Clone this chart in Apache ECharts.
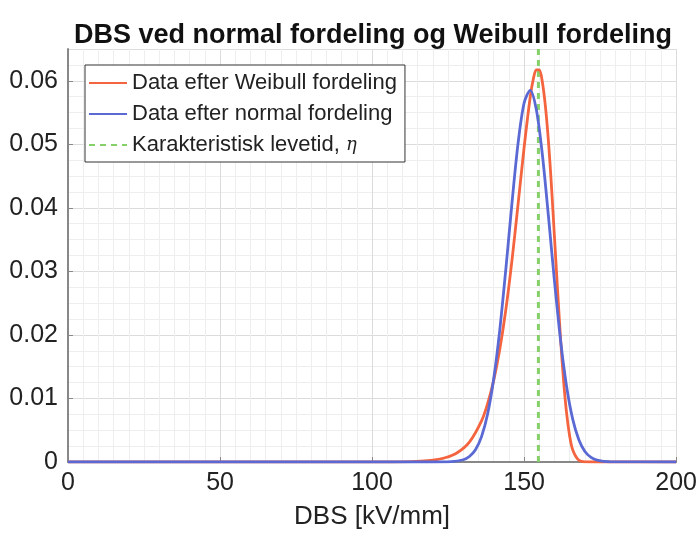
<!DOCTYPE html>
<html>
<head>
<meta charset="utf-8">
<script src="https://cdn.jsdelivr.net/npm/echarts@6/dist/echarts.min.js"></script>
<style>html,body{margin:0;padding:0;background:#fff}#c{width:700px;height:535px}</style>
</head>
<body>
<div id="c"></div>
<script>
const titleText = 'DBS ved normal fordeling og Weibull fordeling';
const xName = 'DBS [kV/mm]';
const seriesNames = ['Data efter Weibull fordeling', 'Data efter normal fordeling', 'Karakteristisk levetid, η'];

const weibullX = [0, 100, 110, 116, 120, 124, 128, 132, 136, 138, 140, 142, 144, 146, 148, 150, 152, 153, 154, 155, 156, 157, 158, 159, 160, 161, 162, 163, 164, 165, 166, 168, 170, 174, 200];
const weibullY = [0, 0, 0.00003, 0.00013, 0.00029, 0.00067, 0.00146, 0.00313, 0.00648, 0.0092, 0.01285, 0.01774, 0.024, 0.0317, 0.0405, 0.0495, 0.0574, 0.0602, 0.0617, 0.0617, 0.0598, 0.056, 0.0505, 0.0434, 0.0353, 0.0271, 0.0193, 0.01267, 0.00756, 0.00403, 0.00189, 0.00026, 0.00002, 0, 0];

const normalX = [0, 120, 126, 130, 132, 134, 136, 138, 140, 142, 144, 146, 148, 150, 152, 154, 156, 158, 160, 162, 164, 166, 168, 170, 172, 174, 178, 200];
const normalY = [0, 0, 0.00005, 0.00035, 0.00087, 0.00193, 0.004, 0.00755, 0.0131, 0.0208, 0.0304, 0.0407, 0.0501, 0.0565, 0.0585, 0.0555, 0.0484, 0.0387, 0.0284, 0.0191, 0.0118, 0.0067, 0.0035, 0.00166, 0.00073, 0.00029, 0.00004, 0];

const etaX = [154.7, 154.7];
const etaY = [0, 0.065];

const xTicks = [0, 50, 100, 150, 200];
const yTicks = [0, 0.01, 0.02, 0.03, 0.04, 0.05, 0.06];

const zip = (xs, ys) => xs.map((x, i) => [x, ys[i]]);

const chart = echarts.init(document.getElementById('c'), null, {renderer: 'canvas'});
const font = 'Liberation Sans, Arial, Helvetica, sans-serif';
chart.setOption({
  animation: false,
  backgroundColor: '#fff',
  title: {
    text: titleText,
    left: 69, top: 17,
    textStyle: {fontFamily: font, fontSize: 27, fontWeight: 'bold', color: '#111'}
  },
  grid: {left: 68, right: 21, top: 49, bottom: 73, containLabel: false},
  legend: {
    orient: 'vertical',
    left: 85, top: 65,
    padding: [7, 8, 6, 3],
    itemGap: 9,
    itemWidth: 38,
    itemHeight: 14,
    borderColor: '#333', borderWidth: 1,
    backgroundColor: '#fff',
    itemStyle: {opacity: 0},
    data: seriesNames,
    formatter: name => name.replace('η', '{i|η}'),
    textStyle: {fontFamily: font, fontSize: 22, color: '#222',
      rich: {i: {fontStyle: 'italic', fontFamily: 'DejaVu Serif, serif', fontSize: 18, color: '#222'}}}
  },
  xAxis: {
    type: 'value', min: 0, max: 200, interval: 50,
    name: xName, nameLocation: 'middle', nameGap: 42,
    nameTextStyle: {fontFamily: font, fontSize: 26, color: '#222'},
    axisLine: {show: true, lineStyle: {color: '#888', width: 2}},
    axisTick: {show: true, inside: true, length: 5, lineStyle: {color: '#888'}},
    axisLabel: {fontFamily: font, fontSize: 25, color: '#222', margin: 9,
      formatter: v => xTicks.includes(v) ? String(v) : ''},
    splitLine: {show: true, lineStyle: {color: '#dcdcdc', width: 1}},
    minorTick: {show: false, splitNumber: 10},
    minorSplitLine: {show: true, lineStyle: {color: '#eeeeee', width: 1}}
  },
  yAxis: {
    type: 'value', min: 0, max: 0.065, interval: 0.01,
    axisLine: {show: true, lineStyle: {color: '#888', width: 2}},
    axisTick: {show: true, inside: true, length: 5, lineStyle: {color: '#888'}},
    axisLabel: {fontFamily: font, fontSize: 25, color: '#222', margin: 10, showMaxLabel: false,
      formatter: v => {
        const t = yTicks.find(y => Math.abs(y - v) < 1e-9);
        if (t === undefined) return '';
        return t === 0 ? '0' : t.toFixed(2);
      }},
    splitLine: {show: true, lineStyle: {color: '#dcdcdc', width: 1}},
    minorTick: {show: false, splitNumber: 4},
    minorSplitLine: {show: true, lineStyle: {color: '#eeeeee', width: 1}}
  },
  series: [
    {
      name: seriesNames[0], type: 'line', symbol: 'none', smooth: 0.3,
      data: zip(weibullX, weibullY),
      lineStyle: {color: '#f4643e', width: 2.8},
      itemStyle: {color: '#f4643e'},
      z: 3
    },
    {
      name: seriesNames[1], type: 'line', symbol: 'none', smooth: 0.3,
      data: zip(normalX, normalY),
      lineStyle: {color: '#5a69d4', width: 2.8},
      itemStyle: {color: '#5a69d4'},
      z: 4
    },
    {
      name: seriesNames[2], type: 'line', symbol: 'none',
      data: zip(etaX, etaY),
      lineStyle: {color: '#86d06a', width: 3, type: [6, 5]},
      itemStyle: {color: '#86d06a'},
      z: 2
    }
  ]
});
</script>
</body>
</html>
